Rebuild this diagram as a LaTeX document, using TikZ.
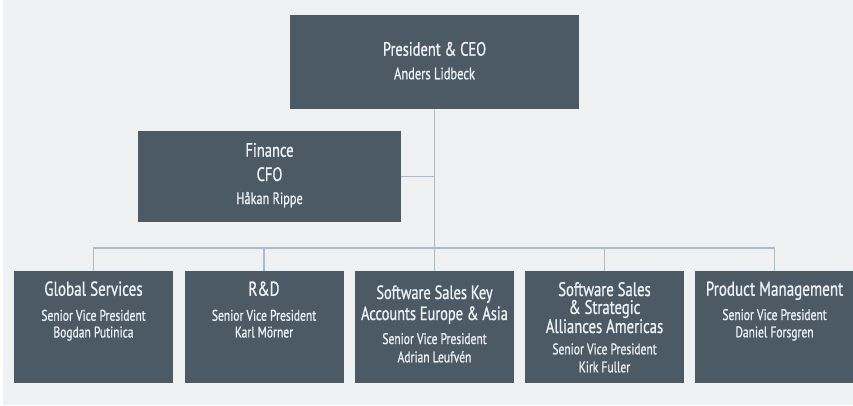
\documentclass[tikz,border=0pt]{standalone}
\usepackage{fontspec}
\setmainfont{PT Sans}[FakeStretch=0.75,FakeBold=0.9]
\definecolor{bgc}{HTML}{EFF1F3}
\definecolor{boxc}{HTML}{4B5A65}
\definecolor{txtc}{HTML}{EEF1F3}
\definecolor{linec}{HTML}{A9BDCC}
\newcommand\boxlines[1]{\parbox[t]{159pt}{\centering #1}}
\begin{document}
\begin{tikzpicture}[x=1pt,y=-1pt,
  orgbox/.style={fill=boxc, draw=none, inner sep=0pt, minimum width=#1},
  lowbox/.style={orgbox=159pt, minimum height=112pt},
  txt/.style={text=txtc, inner sep=0pt, anchor=base},
  conn/.style={draw=linec, line width=1.5pt}]
\useasboundingbox (0,0) rectangle (853,405);
\fill[white] (0,0) rectangle (853,405);
\fill[bgc] (3,0) rectangle (853,405);
% boxes
\node[orgbox=289pt, minimum height=94pt] (ceo) at (434.5,62) {};
\node[orgbox=263pt, minimum height=91pt] (fin) at (269.5,176.5) {};
\node[lowbox] (gs) at (93.5,327) {};
\node[lowbox] (rd) at (264,327) {};
\node[lowbox] (ss) at (434.5,327) {};
\node[lowbox] (sa) at (604.5,327) {};
\node[lowbox] (pm) at (774.5,327) {};
% connectors
\coordinate (bus) at (434.5,248);
\draw[conn] (ceo.south) -- (bus);
\draw[conn] (fin.east) -- (fin.east -| bus);
\draw[conn] (gs.north) |- (bus) -| (pm.north);
\draw[conn] (rd.north) -- (rd.north |- bus);
\draw[conn] (ss.north) -- (ss.north |- bus);
\draw[conn] (sa.north) -- (sa.north |- bus);
% texts
\node[txt, font=\fontsize{19.3}{24}\selectfont] (ceot) at (434.5,55.7) {President \& CEO};
\node[txt, font=\fontsize{16.6}{17}\selectfont] (ceon) at (434.5,79.3) {Anders Lidbeck};
\node[txt, font=\fontsize{19.4}{24.3}\selectfont] (fint) at (269.5,156.7) {\boxlines{Finance\\CFO}};
\node[txt, font=\fontsize{16.4}{17}\selectfont] (finn) at (269.5,204) {Håkan Rippe};
\node[txt, font=\fontsize{20.1}{18}\selectfont] (gst) at (93.5,295.7) {Global Services};
\node[txt, font=\fontsize{15.4}{16.7}\selectfont] (gsn) at (93.5,320.7) {\boxlines{Senior Vice President\\Bogdan Putinica}};
\node[txt, font=\fontsize{20.1}{18}\selectfont] (rdt) at (264,295.7) {R\&D};
\node[txt, font=\fontsize{15.4}{16.7}\selectfont] (rdn) at (264,320.7) {\boxlines{Senior Vice President\\Karl Mörner}};
\node[txt, font=\fontsize{19.2}{21}\selectfont] (sst) at (434.5,299) {\boxlines{Software Sales Key\\Accounts Europe \& Asia}};
\node[txt, font=\fontsize{15.4}{18.3}\selectfont] (ssn) at (434.5,344) {\boxlines{Senior Vice President\\Adrian Leufvén}};
\node[txt, font=\fontsize{19.6}{17.9}\selectfont] (sat) at (604.5,296) {\boxlines{Software Sales\\\& Strategic\\Alliances Americas}};
\node[txt, font=\fontsize{15.4}{18}\selectfont] (san) at (604.5,354.3) {\boxlines{Senior Vice President\\Kirk Fuller}};
\node[txt, font=\fontsize{20.1}{18}\selectfont] (pmt) at (774.5,295.7) {Product Management};
\node[txt, font=\fontsize{15.4}{17.3}\selectfont] (pmn) at (774.5,320) {\boxlines{Senior Vice President\\Daniel Forsgren}};
\end{tikzpicture}
\end{document}
